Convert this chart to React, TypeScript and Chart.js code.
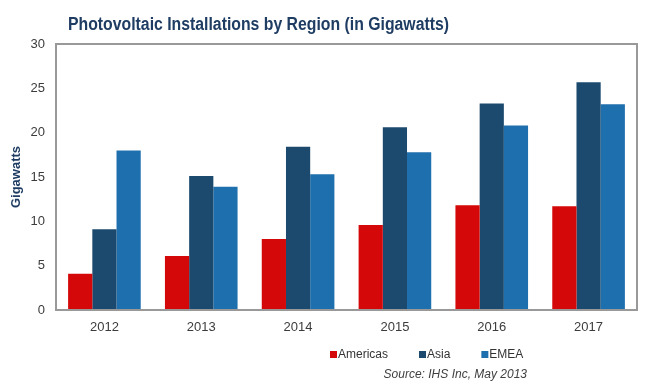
import React, { useEffect, useRef } from "react";
import { Chart, registerables } from "chart.js";

Chart.register(...registerables);

const years = ["2012", "2013", "2014", "2015", "2016", "2017"];
const americas = [4.1, 6.1, 8.0, 9.6, 11.8, 11.7];
const asia = [9.1, 15.1, 18.4, 20.6, 23.3, 25.7];
const emea = [18.0, 13.9, 15.3, 17.8, 20.8, 23.2];
const seriesNames = ["Americas", "Asia", "EMEA"];
const seriesColors = ["#D40808", "#1C4A6E", "#1E6FAE"];
const yMin = 0;
const yMax = 30;
const yStep = 5;
const titleText = "Photovoltaic Installations by Region (in Gigawatts)";
const yAxisTitle = "Gigawatts";
const sourceText = "Source: IHS Inc, May 2013";

const FONT = "'Liberation Sans', Arial, sans-serif";

const decorPlugin = {
  id: "decor",
  afterDatasetsDraw(chart: any) {
    const { ctx, chartArea: a } = chart;
    ctx.save();
    ctx.strokeStyle = "#999999";
    ctx.lineWidth = 2;
    ctx.strokeRect(a.left, a.top, a.right - a.left, a.bottom - a.top);
    ctx.restore();
  },
  afterDraw(chart: any) {
    const { ctx } = chart;
    ctx.save();
    // title
    ctx.fillStyle = "#1F3D63";
    ctx.font = `bold 18px ${FONT}`;
    ctx.textAlign = "left";
    ctx.textBaseline = "alphabetic";
    ctx.fillText(titleText, 68, 30, 381);

    // legend
    ctx.font = `12px ${FONT}`;
    ctx.textBaseline = "middle";
    let x = 330;
    const y = 355;
    chart.data.datasets.forEach((ds: any) => {
      ctx.fillStyle = ds.backgroundColor;
      ctx.fillRect(x, y - 4, 7, 7);
      ctx.fillStyle = "#333333";
      ctx.fillText(ds.label, x + 8, y);
      x += 8 + ctx.measureText(ds.label).width + 31;
    });

    // source
    ctx.font = `italic 12px ${FONT}`;
    ctx.fillStyle = "#404040";
    ctx.textAlign = "right";
    ctx.fillText(sourceText, 527, 375);
    ctx.restore();
  },
};

export default function App() {
  const canvasRef = useRef<HTMLCanvasElement | null>(null);

  useEffect(() => {
    document.body.style.margin = "0";
    const canvas = canvasRef.current;
    if (!canvas) return;
    const chart = new Chart(canvas, {
      type: "bar",
      data: {
        labels: years,
        datasets: [americas, asia, emea].map((d, i) => ({
          label: seriesNames[i],
          data: d,
          backgroundColor: seriesColors[i],
          borderWidth: 0,
          categoryPercentage: 0.75,
          barPercentage: 1.0,
        })),
      },
      options: {
        animation: false,
        responsive: false,
        maintainAspectRatio: false,
        layout: { padding: { top: 44, right: 13, bottom: 0, left: 0 } },
        plugins: {
          legend: { display: false },
          title: { display: false },
          tooltip: { enabled: false },
        },
        scales: {
          x: {
            grid: { display: false, drawTicks: false },
            border: { display: false },
            ticks: {
              color: "#3C3C3C",
              font: { family: FONT, size: 13 },
              padding: 10,
            },
            afterFit: (s: any) => {
              s.height = 80;
            },
          },
          y: {
            min: yMin,
            max: yMax,
            grid: { display: false, drawTicks: false },
            border: { display: false },
            ticks: {
              stepSize: yStep,
              color: "#3C3C3C",
              font: { family: FONT, size: 13 },
              padding: 11,
            },
            title: {
              display: true,
              text: yAxisTitle,
              color: "#1F3D63",
              font: { family: FONT, size: 13, weight: "bold" },
              padding: { top: 9, bottom: 0 },
            },
            afterFit: (s: any) => {
              s.width = 56;
            },
          },
        },
      },
      plugins: [decorPlugin],
    });
    return () => chart.destroy();
  }, []);

  return (
    <div style={{ width: 650, height: 390, background: "#ffffff" }}>
      <canvas ref={canvasRef} width={650} height={390} />
    </div>
  );
}
